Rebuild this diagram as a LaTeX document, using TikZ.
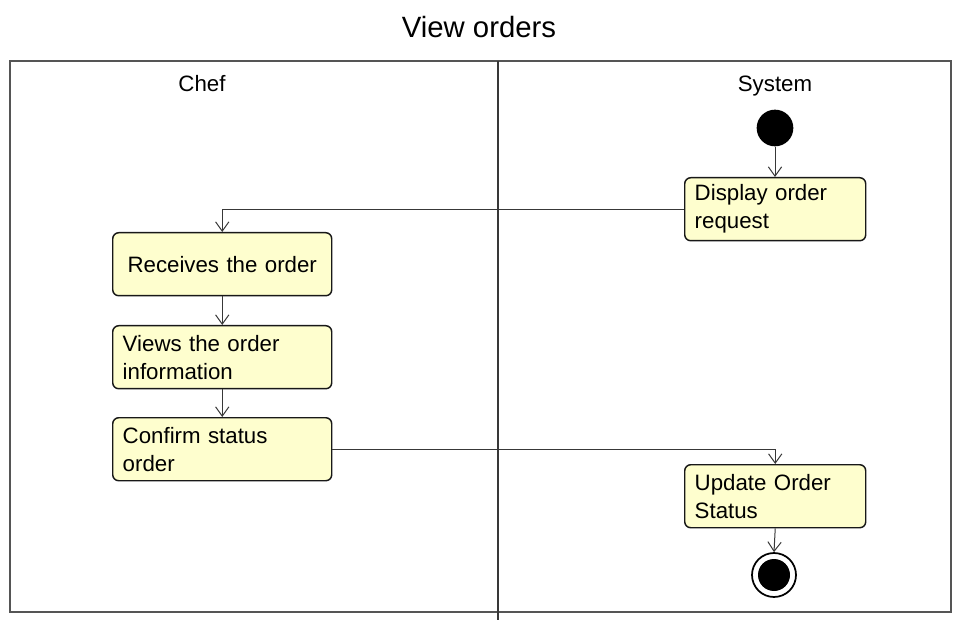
\documentclass[tikz,border=0pt]{standalone}
\usepackage{fontspec}
\setmainfont{Liberation Sans}
\usetikzlibrary{arrows.meta}
\definecolor{boxfill}{HTML}{FEFECE}
\definecolor{boxline}{HTML}{181818}
\definecolor{arrline}{HTML}{383838}
\definecolor{frameline}{HTML}{555555}
\begin{document}
\begin{tikzpicture}[x=0.75pt,y=-0.75pt,
  actbox/.style={draw=boxline, fill=boxfill, line width=1.1pt, rounded corners=4.5pt,
    anchor=north west, inner xsep=7.5pt, inner ysep=0pt, align=left,
    font=\fontsize{16.7}{21}\selectfont},
  flow/.style={draw=arrline, line width=0.75pt, -{Straight Barb[length=7pt,width=10pt]}},
  lane/.style={font=\fontsize{16.7}{21}\selectfont, anchor=base}
]
\useasboundingbox (0,0) rectangle (975,620);
\node (title) at (479,27) {\fontsize{22}{26}\selectfont View orders};
\draw[frameline, line width=1pt] (10,61) rectangle (951,612);
\coordinate (divtop) at (498,61);
\coordinate (divbot) at (498,620);
\draw[arrline, line width=0.8pt] (divtop) -- (divbot);
\node[lane] (chef) at (202,92) {Chef};
\node[lane] (sys) at (775,92) {System};

\node[circle, fill=black, minimum size=27.5pt, inner sep=0pt] (start) at (775,128) {};
\node[actbox, text width=120.75pt, minimum height=47.25pt] (disp) at (684,177) {Display order\\request};
\node[actbox, text width=149.25pt, minimum height=47.25pt, align=center] (recv) at (112,232) {Receives the order};
\node[actbox, text width=149.25pt, minimum height=47.25pt] (views) at (112,325) {Views the order\\information};
\node[actbox, text width=149.25pt, minimum height=47.25pt] (conf) at (112,417) {Confirm status\\order};
\node[actbox, text width=120.75pt, minimum height=47.25pt] (upd) at (684,464) {Update Order\\Status};
\node[circle, draw=black, line width=1.3pt, fill=white, minimum size=33pt, inner sep=0pt] (end) at (774,575) {};
\node[circle, fill=black, minimum size=24pt, inner sep=0pt] (endin) at (end) {};

\draw[flow] (start) -- (disp.north -| start);
\draw[flow] (disp.west) -| (recv.north);
\draw[flow] (recv.south) -- (views.north);
\draw[flow] (views.south) -- (conf.north);
\draw[flow] (conf.east) -| (upd.north);
\draw[flow] (upd.south) -- (end.north);
\end{tikzpicture}
\end{document}
